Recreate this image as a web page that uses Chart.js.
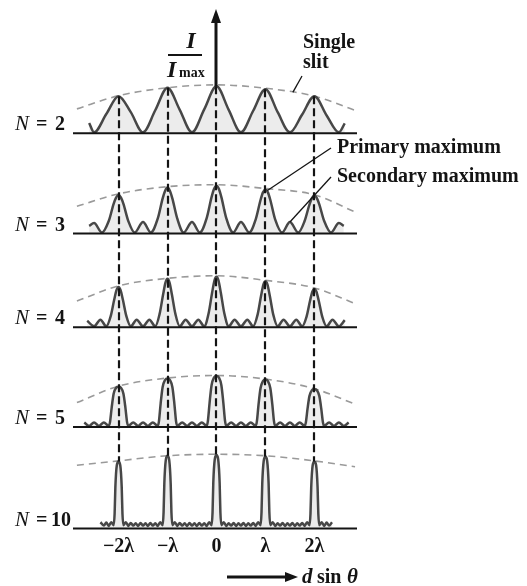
<!DOCTYPE html>
<html>
<head>
<meta charset="utf-8">
<script src="https://cdn.jsdelivr.net/npm/chart.js@4.4.1/dist/chart.umd.min.js"></script>
<style>
  html, body { margin: 0; padding: 0; background: #fff; }
  #wrap { position: relative; width: 527px; height: 586px; }
</style>
</head>
<body>
<div id="wrap"><canvas id="c" width="527" height="586"></canvas></div>
<script>
// Principal-maximum orders (units of lambda) and their axis labels
const orders = [-2, -1, 0, 1, 2];
const orderLabels = ['\u22122\u03bb', '\u2212\u03bb', '0', '\u03bb', '2\u03bb'];

// N = 2 : intensity I/Imax against d sin(theta) / lambda
const n2x = [-2.6, -2.5, -2.25, -2, -1.75, -1.5, -1.25, -1, -0.75, -0.5, -0.25, 0,
             0.25, 0.5, 0.75, 1, 1.25, 1.5, 1.75, 2, 2.25, 2.5, 2.62];
const n2i = [0.22, 0.02, 0.41, 0.79, 0.45, 0.02, 0.49, 0.97, 0.50, 0.02, 0.51, 1.00,
             0.50, 0.02, 0.48, 0.94, 0.45, 0.02, 0.40, 0.79, 0.38, 0.02, 0.21];

// N = 3
const n3x = [-2.6, -2.5, -2.34, -2.2, -2.1, -2.05, -2, -1.95, -1.9, -1.8, -1.67, -1.5, -1.34,
             -1.2, -1.1, -1.05, -1, -0.95, -0.9, -0.8, -0.67, -0.5, -0.34,
             -0.2, -0.1, -0.05, 0, 0.05, 0.1, 0.2, 0.34, 0.5, 0.67,
             0.8, 0.9, 0.95, 1, 1.05, 1.1, 1.2, 1.34, 1.5, 1.67,
             1.8, 1.9, 1.95, 2, 2.05, 2.1, 2.2, 2.34, 2.5, 2.6];
const n3i = [0.16, 0.22, 0.02, 0.26, 0.62, 0.75, 0.81, 0.75, 0.62, 0.26, 0.02, 0.24, 0.02,
             0.31, 0.73, 0.89, 0.96, 0.89, 0.73, 0.31, 0.02, 0.24, 0.02,
             0.32, 0.76, 0.93, 1.00, 0.93, 0.76, 0.32, 0.02, 0.24, 0.02,
             0.29, 0.70, 0.86, 0.92, 0.86, 0.70, 0.29, 0.02, 0.24, 0.02,
             0.26, 0.61, 0.74, 0.80, 0.74, 0.61, 0.26, 0.02, 0.22, 0.16];

// N = 4
const n4x = [-2.64, -2.5, -2.37, -2.25,
             -2.16, -2.09, -2.04, -2, -1.96, -1.91, -1.84, -1.75, -1.63, -1.5, -1.37, -1.25,
             -1.16, -1.09, -1.04, -1, -0.96, -0.91, -0.84, -0.75, -0.63, -0.5, -0.37, -0.25,
             -0.16, -0.09, -0.04, 0, 0.04, 0.09, 0.16, 0.25, 0.37, 0.5, 0.63, 0.75,
             0.84, 0.91, 0.96, 1, 1.04, 1.09, 1.16, 1.25, 1.37, 1.5, 1.63, 1.75,
             1.84, 1.91, 1.96, 2, 2.04, 2.09, 2.16, 2.25, 2.37, 2.5, 2.62];
const n4i = [0.13, 0.02, 0.15, 0.02,
             0.22, 0.54, 0.74, 0.80, 0.74, 0.54, 0.22, 0.02, 0.15, 0.02, 0.15, 0.02,
             0.27, 0.65, 0.89, 0.96, 0.89, 0.65, 0.27, 0.02, 0.15, 0.02, 0.15, 0.02,
             0.28, 0.68, 0.93, 1.00, 0.93, 0.68, 0.28, 0.02, 0.15, 0.02, 0.15, 0.02,
             0.25, 0.62, 0.85, 0.91, 0.85, 0.62, 0.25, 0.02, 0.15, 0.02, 0.15, 0.02,
             0.21, 0.52, 0.71, 0.76, 0.71, 0.52, 0.21, 0.02, 0.15, 0.02, 0.14];

// N = 5
const n5x = [-2.7, -2.6, -2.5, -2.4, -2.3, -2.2,
             -2.175, -2.14, -2.1, -2.05, -2, -1.95, -1.9, -1.86, -1.825,
             -1.8, -1.7, -1.6, -1.5, -1.4, -1.3, -1.2,
             -1.175, -1.14, -1.1, -1.05, -1, -0.95, -0.9, -0.86, -0.825,
             -0.8, -0.7, -0.6, -0.5, -0.4, -0.3, -0.2,
             -0.175, -0.14, -0.1, -0.05, 0, 0.05, 0.1, 0.14, 0.175,
             0.2, 0.3, 0.4, 0.5, 0.6, 0.7, 0.8,
             0.825, 0.86, 0.9, 0.95, 1, 1.05, 1.1, 1.14, 1.175,
             1.2, 1.3, 1.4, 1.5, 1.6, 1.7, 1.8,
             1.825, 1.86, 1.9, 1.95, 2, 2.05, 2.1, 2.14, 2.175,
             2.2, 2.3, 2.4, 2.5, 2.6, 2.7];
const n5i = [0.09, 0.02, 0.09, 0.02, 0.09, 0.02,
             0.09, 0.38, 0.65, 0.77, 0.79, 0.77, 0.65, 0.38, 0.09,
             0.02, 0.09, 0.02, 0.09, 0.02, 0.09, 0.02,
             0.11, 0.46, 0.78, 0.92, 0.95, 0.92, 0.78, 0.46, 0.11,
             0.02, 0.09, 0.02, 0.09, 0.02, 0.09, 0.02,
             0.12, 0.48, 0.82, 0.97, 1.00, 0.97, 0.82, 0.48, 0.12,
             0.02, 0.09, 0.02, 0.09, 0.02, 0.09, 0.02,
             0.11, 0.45, 0.76, 0.90, 0.93, 0.90, 0.76, 0.45, 0.11,
             0.02, 0.09, 0.02, 0.09, 0.02, 0.09, 0.02,
             0.09, 0.36, 0.61, 0.72, 0.74, 0.72, 0.61, 0.36, 0.09,
             0.02, 0.09, 0.02, 0.09, 0.02, 0.09];

// N = 10
const n10x = [-2.37, -2.3, -2.25, -2.2, -2.15, -2.1,
              -2.08, -2.065, -2.035, -2, -1.965, -1.935, -1.92, -1.9,
              -1.85, -1.8, -1.75, -1.7, -1.65, -1.6, -1.55, -1.5, -1.45, -1.4, -1.35, -1.3, -1.25, -1.2, -1.15, -1.1,
              -1.08, -1.065, -1.035, -1, -0.965, -0.935, -0.92, -0.9,
              -0.85, -0.8, -0.75, -0.7, -0.65, -0.6, -0.55, -0.5, -0.45, -0.4, -0.35, -0.3, -0.25, -0.2, -0.15, -0.1,
              -0.08, -0.065, -0.035, 0, 0.035, 0.065, 0.08, 0.1,
              0.15, 0.2, 0.25, 0.3, 0.35, 0.4, 0.45, 0.5, 0.55, 0.6, 0.65, 0.7, 0.75, 0.8, 0.85, 0.9,
              0.92, 0.935, 0.965, 1, 1.035, 1.065, 1.08, 1.1,
              1.15, 1.2, 1.25, 1.3, 1.35, 1.4, 1.45, 1.5, 1.55, 1.6, 1.65, 1.7, 1.75, 1.8, 1.85, 1.9,
              1.92, 1.935, 1.965, 2, 2.035, 2.065, 2.08, 2.1,
              2.15, 2.2, 2.25, 2.3, 2.36];
const n10i = [0.085, 0.04, 0.08, 0.035, 0.085, 0.045,
              0.20, 0.56, 0.86, 0.91, 0.86, 0.56, 0.20, 0.045,
              0.085, 0.035, 0.075, 0.04, 0.07, 0.035, 0.075, 0.04, 0.07, 0.035, 0.075, 0.04, 0.07, 0.035, 0.085, 0.045,
              0.22, 0.61, 0.93, 0.99, 0.93, 0.61, 0.22, 0.045,
              0.085, 0.035, 0.075, 0.04, 0.07, 0.035, 0.075, 0.04, 0.07, 0.035, 0.075, 0.04, 0.07, 0.035, 0.085, 0.045,
              0.22, 0.62, 0.94, 1.00, 0.94, 0.62, 0.22, 0.045,
              0.085, 0.035, 0.07, 0.04, 0.075, 0.035, 0.07, 0.04, 0.075, 0.035, 0.07, 0.04, 0.075, 0.035, 0.085, 0.045,
              0.22, 0.61, 0.92, 0.98, 0.92, 0.61, 0.22, 0.045,
              0.085, 0.035, 0.07, 0.04, 0.075, 0.035, 0.07, 0.04, 0.075, 0.035, 0.07, 0.04, 0.075, 0.035, 0.085, 0.045,
              0.20, 0.56, 0.86, 0.91, 0.86, 0.56, 0.20, 0.045,
              0.085, 0.035, 0.08, 0.04, 0.085];

// Single-slit envelope (dashed) for each panel
const envX = [-2.85, -2, -1, 0, 1, 2, 2.83];
const env2 = [0.52, 0.80, 0.97, 1.03, 0.96, 0.79, 0.49];
const env3 = [0.57, 0.83, 0.98, 1.02, 0.94, 0.81, 0.45];
const env4 = [0.52, 0.82, 0.97, 1.02, 0.93, 0.78, 0.47];
const env5 = [0.48, 0.80, 0.96, 1.01, 0.94, 0.75, 0.45];
const env10 = [0.86, 0.92, 0.99, 1.01, 0.99, 0.92, 0.84];

// Panel layout: one stacked y axis per slit count, top to bottom
const panels = [
  { axis: 'y2',  label: '2',  xs: n2x,  ys: n2i,  env: env2,  max: 2.128, weight: 100.0 },
  { axis: 'y3',  label: '3',  xs: n3x,  ys: n3i,  env: env3,  max: 2.096, weight: 100.2 },
  { axis: 'y4',  label: '4',  xs: n4x,  ys: n4i,  env: env4,  max: 1.857, weight: 93.8 },
  { axis: 'y5',  label: '5',  xs: n5x,  ys: n5i,  env: env5,  max: 1.955, weight: 99.7 },
  { axis: 'y10', label: '10', xs: n10x, ys: n10i, env: env10, max: 1.381, weight: 101.5 }
];

const zip = (xs, ys) => xs.map((x, k) => ({ x: x, y: ys[k] }));
const valueAt = (xs, ys, x) => ys[xs.indexOf(x)];

const SERIF = '"Liberation Serif", "Times New Roman", serif';
const INK = '#141414';

const datasets = [];
panels.forEach(p => {
  datasets.push({
    label: 'N = ' + p.label,
    data: zip(p.xs, p.ys),
    yAxisID: p.axis,
    borderColor: '#474747',
    borderWidth: 2.5,
    backgroundColor: '#ececec',
    fill: 'origin',
    pointRadius: 0,
    cubicInterpolationMode: 'monotone',
    order: 0
  });
  datasets.push({
    label: 'single slit ' + p.label,
    data: zip(envX, p.env),
    yAxisID: p.axis,
    borderColor: '#9a9a9a',
    borderWidth: 1.6,
    borderDash: [7, 5],
    fill: false,
    pointRadius: 0,
    cubicInterpolationMode: 'monotone',
    order: 1
  });
});

const scales = {
  x: {
    type: 'linear',
    min: -2.93,
    max: 2.87,
    grid: { display: false, drawTicks: false },
    border: { display: false },
    afterBuildTicks: s => { s.ticks = orders.map(v => ({ value: v })); },
    ticks: {
      autoSkip: false,
      maxRotation: 0,
      padding: 6,
      color: INK,
      font: { family: SERIF, size: 20, weight: 'bold' },
      callback: (v, k) => orderLabels[k]
    }
  }
};
panels.forEach((p, k) => {
  scales[p.axis] = {
    type: 'linear',
    position: 'left',
    display: false,
    stack: 'panels',
    stackWeight: p.weight,
    weight: 10 - k,
    min: 0,
    max: p.max
  };
});

function arrowHead(ctx, tipX, tipY, dirX, dirY, len, half) {
  const bx = tipX - dirX * len, by = tipY - dirY * len;
  ctx.beginPath();
  ctx.moveTo(tipX, tipY);
  ctx.lineTo(bx - dirY * half, by + dirX * half);
  ctx.lineTo(bx + dirY * half, by - dirX * half);
  ctx.closePath();
  ctx.fill();
}

const figureMarks = {
  id: 'figureMarks',
  afterDatasetsDraw(chart) {
    const { ctx, chartArea, scales: sc } = chart;
    const xs = sc.x;
    ctx.save();
    // panel baselines
    ctx.strokeStyle = INK;
    ctx.lineWidth = 2;
    panels.forEach(p => {
      const y = sc[p.axis].getPixelForValue(0);
      ctx.beginPath();
      ctx.moveTo(chartArea.left, y);
      ctx.lineTo(chartArea.right, y);
      ctx.stroke();
    });
    // dashed guides through the principal maxima, from the N=2 peak to the N=10 peak
    ctx.setLineDash([8, 4]);
    ctx.lineWidth = 2.2;
    const first = panels[0], last = panels[panels.length - 1];
    orders.forEach(m => {
      const px = Math.round(xs.getPixelForValue(m));
      const top = sc[first.axis].getPixelForValue(valueAt(first.xs, first.ys, m));
      const bottom = sc[last.axis].getPixelForValue(valueAt(last.xs, last.ys, m));
      ctx.beginPath();
      ctx.moveTo(px, top);
      ctx.lineTo(px, bottom);
      ctx.stroke();
    });
    ctx.restore();
  },
  afterDraw(chart) {
    const { ctx, scales: sc } = chart;
    const xs = sc.x;
    ctx.save();
    ctx.fillStyle = INK;
    ctx.strokeStyle = INK;
    ctx.textBaseline = 'alphabetic';

    // vertical intensity axis arrow above the central maximum
    const cx = Math.round(xs.getPixelForValue(0));
    const cTop = sc.y2.getPixelForValue(valueAt(n2x, n2i, 0));
    ctx.lineWidth = 3;
    ctx.beginPath();
    ctx.moveTo(cx, cTop);
    ctx.lineTo(cx, 20);
    ctx.stroke();
    arrowHead(ctx, cx, 9, 0, -1, 14, 5);

    // I / Imax
    ctx.textAlign = 'center';
    ctx.font = 'italic bold 24px ' + SERIF;
    ctx.fillText('I', 191, 48);
    ctx.lineWidth = 1.8;
    ctx.beginPath();
    ctx.moveTo(168, 55);
    ctx.lineTo(202, 55);
    ctx.stroke();
    ctx.textAlign = 'left';
    ctx.fillText('I', 167, 77);
    ctx.font = 'bold 14px ' + SERIF;
    ctx.fillText('max', 179, 77);

    // panel labels
    panels.forEach(p => {
      const y = sc[p.axis].getPixelForValue(0) - 3;
      ctx.font = 'italic 21px ' + SERIF;
      ctx.fillText('N', 15, y);
      ctx.font = 'bold 20px ' + SERIF;
      ctx.fillText('=', 36, y);
      ctx.fillText(p.label, p.label.length > 1 ? 51 : 55, y);
    });

    // annotations
    ctx.font = 'bold 20px ' + SERIF;
    ctx.fillText('Single', 303, 48);
    ctx.fillText('slit', 303, 68);
    ctx.fillText('Primary maximum', 337, 153);
    ctx.fillText('Secondary maximum', 337, 182);

    ctx.lineWidth = 1.3;
    // pointer to the single-slit envelope
    const sx = xs.getPixelForValue(1.56), sy = sc.y2.getPixelForValue(0.87);
    ctx.beginPath(); ctx.moveTo(sx, sy); ctx.lineTo(302, 76); ctx.stroke();
    // pointer to a primary maximum (N = 3, first order)
    const px = xs.getPixelForValue(1), py = sc.y3.getPixelForValue(valueAt(n3x, n3i, 1));
    ctx.beginPath(); ctx.moveTo(px + 2, py + 1); ctx.lineTo(331, 148); ctx.stroke();
    // pointer to a secondary maximum (N = 3, between first and second order)
    const qx = xs.getPixelForValue(1.5), qy = sc.y3.getPixelForValue(valueAt(n3x, n3i, 1.5));
    ctx.beginPath(); ctx.moveTo(qx, qy); ctx.lineTo(331, 177); ctx.stroke();

    // horizontal axis arrow and label
    ctx.lineWidth = 3;
    ctx.beginPath();
    ctx.moveTo(227, 577);
    ctx.lineTo(288, 577);
    ctx.stroke();
    arrowHead(ctx, 298, 577, 1, 0, 13, 5);
    ctx.font = 'italic bold 21px ' + SERIF;
    ctx.fillText('d', 302, 583);
    ctx.font = 'bold 20px ' + SERIF;
    ctx.fillText('sin', 317, 583);
    ctx.font = 'italic bold 21px ' + SERIF;
    ctx.fillText('\u03b8', 347, 583);
    ctx.restore();
  }
};

new Chart(document.getElementById('c'), {
  type: 'line',
  data: { datasets: datasets },
  options: {
    responsive: false,
    animation: false,
    devicePixelRatio: 1,
    layout: { padding: { left: 73, right: 170, top: 33.3, bottom: 21.5 } },
    plugins: { legend: { display: false }, tooltip: { enabled: false } },
    scales: scales
  },
  plugins: [figureMarks]
});
</script>
</body>
</html>
